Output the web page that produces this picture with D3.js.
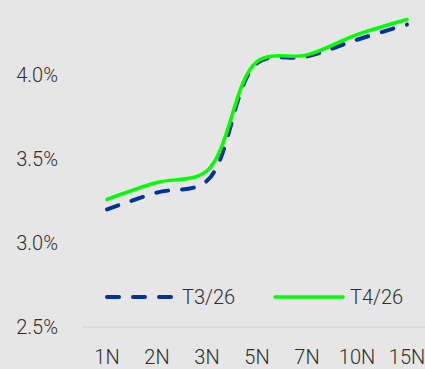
<!DOCTYPE html>
<html>
<head>
<meta charset="utf-8">
<script src="https://cdn.jsdelivr.net/npm/d3@7"></script>
<style>
    html, body { margin: 0; padding: 0; background: #e6e6e6; }
    .chart text { font-family: Roboto, "Noto Sans", sans-serif; font-weight: 300; fill: #2e2e2e; }
</style>
</head>
<body>
<div class="chart"></div>
<script>
var categories = ['1N', '2N', '3N', '5N', '7N', '10N', '15N'];
var t3Values = [3.20, 3.30, 3.37, 4.07, 4.11, 4.21, 4.30];
var t4Values = [3.26, 3.36, 3.43, 4.08, 4.12, 4.24, 4.33];
var yTicks = [2.5, 3.0, 3.5, 4.0];
var seriesNames = ['T3/26', 'T4/26'];

var series = [
    { name: seriesNames[0], values: t3Values, color: '#00339a', dash: '12,14', width: 4 },
    { name: seriesNames[1], values: t4Values, color: '#00ff00', dash: null, width: 3.5 }
];

draw();

function draw() {
    var width = 425;
    var height = 369;

    var svg = d3.select('.chart')
        .append('svg')
        .attr('width', width)
        .attr('height', height);

    var x = d3.scalePoint()
        .domain(categories)
        .range([107, 407]);

    var y = d3.scaleLinear()
        .domain([2.5, 4.5])
        .range([327, -9]);

    // baseline
    svg.append('line')
        .attr('x1', 82)
        .attr('x2', width)
        .attr('y1', y(2.5))
        .attr('y2', y(2.5))
        .attr('stroke', '#d8d8d8')
        .attr('stroke-width', 1.5);

    // y tick labels
    svg.selectAll('.ytick')
        .data(yTicks)
        .enter()
        .append('text')
        .attr('class', 'ytick')
        .attr('x', 58)
        .attr('y', function (d) { return y(d); })
        .attr('dy', '0.36em')
        .attr('text-anchor', 'end')
        .style('font-size', '20px')
        .text(function (d) { return d.toFixed(1) + '%'; });

    // x tick labels
    svg.selectAll('.xtick')
        .data(categories)
        .enter()
        .append('text')
        .attr('class', 'xtick')
        .attr('x', function (d) { return x(d); })
        .attr('y', 357)
        .attr('dy', '0.36em')
        .attr('text-anchor', 'middle')
        .style('font-size', '20px')
        .text(function (d) { return d; });

    var line = d3.line()
        .x(function (d, i) { return x(categories[i]); })
        .y(function (d) { return y(d); })
        .curve(d3.curveCatmullRom.alpha(0.5));

    svg.selectAll('.series')
        .data(series)
        .enter()
        .append('path')
        .attr('class', 'series')
        .attr('d', function (s) { return line(s.values); })
        .attr('fill', 'none')
        .attr('stroke', function (s) { return s.color; })
        .attr('stroke-width', function (s) { return s.width; })
        .attr('stroke-dasharray', function (s) { return s.dash; })
        .attr('stroke-linecap', 'round');

    // legend
    var legendX = [107, 275];
    var legend = svg.selectAll('.legend')
        .data(series)
        .enter()
        .append('g')
        .attr('class', 'legend')
        .attr('transform', function (s, i) { return 'translate(' + legendX[i] + ',297)'; });

    legend.append('line')
        .attr('x1', 0)
        .attr('x2', 68)
        .attr('stroke', function (s) { return s.color; })
        .attr('stroke-width', function (s) { return s.width; })
        .attr('stroke-dasharray', function (s) { return s.dash; })
        .attr('stroke-linecap', 'round');

    legend.append('text')
        .attr('x', 75)
        .attr('dy', '0.36em')
        .style('font-size', '20px')
        .text(function (s) { return s.name; });
}
</script>
</body>
</html>
